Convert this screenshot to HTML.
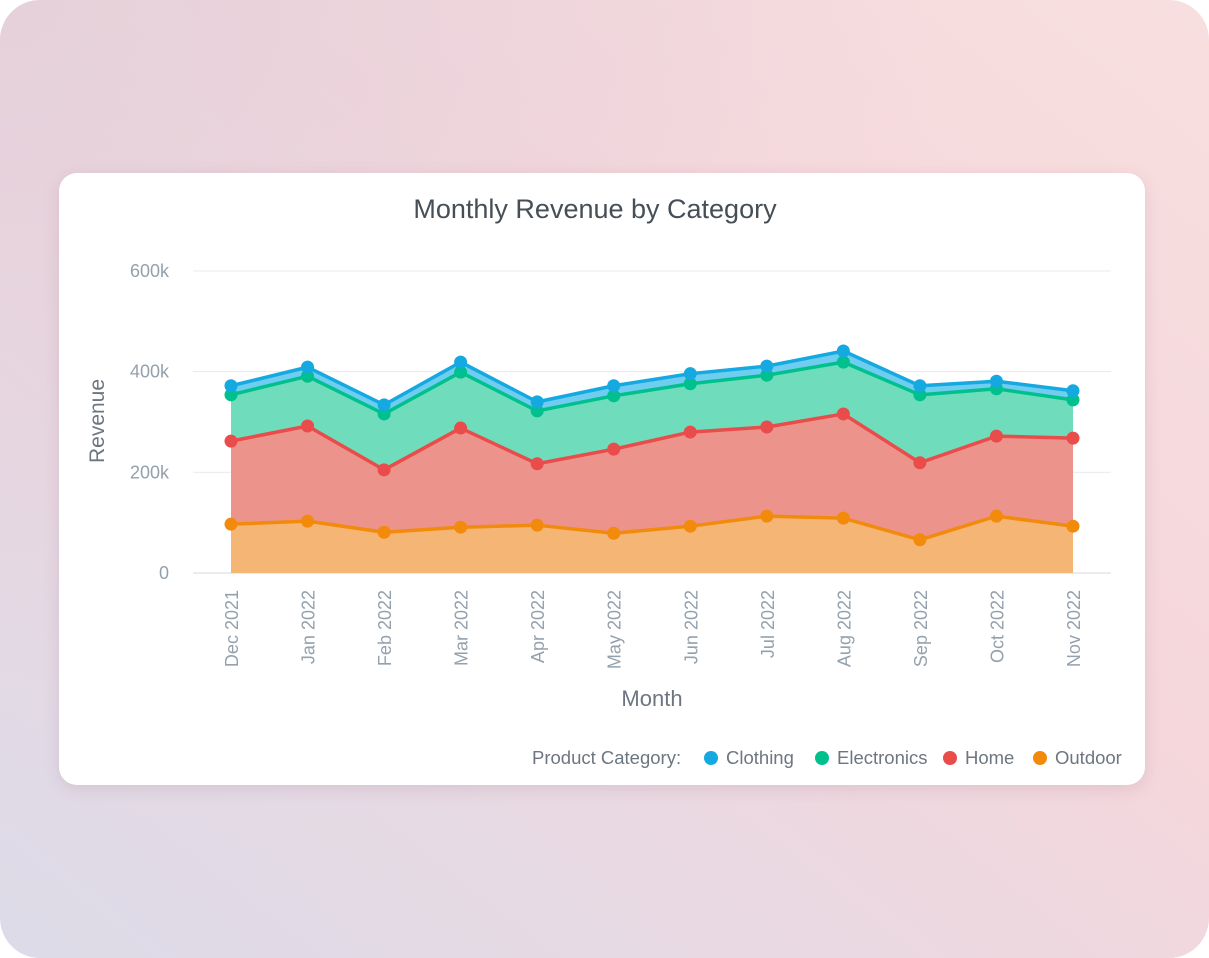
<!DOCTYPE html>
<html><head><meta charset="utf-8">
<style>
html,body{margin:0;padding:0;width:1209px;height:958px;overflow:hidden;background:#fff;font-family:"Liberation Sans",sans-serif;}
#bg{position:absolute;left:0;top:0;width:1209px;height:958px;border-radius:40px;background:linear-gradient(to top right,#dcdbe8 0%,#ead9e2 35%,#f5d7dc 60%,#f8dfdf 100%);}
#bg2{position:absolute;left:0;top:0;width:1209px;height:958px;border-radius:40px;background:radial-gradient(ellipse at 0% 0%,rgba(228,208,218,0.9) 0%,rgba(228,208,218,0) 55%);}
#card{position:absolute;left:59px;top:173px;width:1086px;height:612px;background:#fff;border-radius:18px;box-shadow:0 4px 16px rgba(150,100,120,0.18);}
svg{position:absolute;left:0;top:0;}
</style></head><body>
<div id="bg"></div>
<div id="bg2"></div>
<div id="card"></div>
<svg id="chart" width="1209" height="958"></svg>
<script>
const months=["Dec 2021","Jan 2022","Feb 2022","Mar 2022","Apr 2022","May 2022","Jun 2022","Jul 2022","Aug 2022","Sep 2022","Oct 2022","Nov 2022"];
const outdoor=[97,103,81,91,95,79,93,113,109,66,113,93];
const home=[165,189,124,197,122,167,187,177,207,153,159,175];
const electronics=[92,99,111,111,105,106,96,103,103,135,94,76];
const clothing=[18,18,18,20,18,20,20,18,22,18,15,18];
const yTicks=[0,200,400,600];
const yTickLabels=["0","200k","400k","600k"];
const svg=document.getElementById('chart');
const NS="http://www.w3.org/2000/svg";
function x(i){return 231+i*(1073-231)/(months.length-1);}
function y(v){return 573-v*(573-271)/600;}
function mk(t,a,p){const e=document.createElementNS(NS,t);for(const k in a)e.setAttribute(k,a[k]);(p||svg).appendChild(e);return e;}
let t=mk('text',{x:595,y:218,'text-anchor':'middle','font-size':27,fill:'#464e56'});t.textContent="Monthly Revenue by Category";


yTicks.forEach((v,i)=>{
  const g=mk('line',{x1:193,x2:1111,y1:y(v),y2:y(v),stroke:i==0?'#d5dae0':'#e8ebee','stroke-width':1});
  
  
  const l=mk('text',{x:169,y:y(v)+6,'text-anchor':'end','font-size':18,fill:'#94a1ad'});l.textContent=yTickLabels[i];
  
  
});
let yt=mk('text',{x:0,y:0,transform:'translate(104,421) rotate(-90)','text-anchor':'middle','font-size':21,fill:'#6d7680'});yt.textContent="Revenue";


months.forEach((m,i)=>{
  const l=mk('text',{x:0,y:0,transform:`translate(${x(i)+7},590) rotate(-90)`,'text-anchor':'end','font-size':18,fill:'#94a1ad'});l.textContent=m;
  
  
});
let xt=mk('text',{x:652,y:706,'text-anchor':'middle','font-size':22,fill:'#6d7680'});xt.textContent="Month";


const series=[["outdoor",outdoor,"#f28a0c","#f5b574"],["home",home,"#e94c4a","#ec948b"],["electronics",electronics,"#00c08e","#6fdcbb"],["clothing",clothing,"#14a9e0","#6fcdf0"]];
let base=months.map(()=>0);
const tops=[];
series.forEach(s=>{
  const top=base.map((b,i)=>b+s[1][i]);
  let d="M"+months.map((_,i)=>x(i)+","+y(top[i])).join("L");
  for(let i=months.length-1;i>=0;i--)d+="L"+x(i)+","+y(base[i]);
  const a=mk('path',{d:d+"Z",fill:s[3]});
  
  
  tops.push(top);base=top;
});
series.forEach((s,k)=>{
  const top=tops[k];
  const ln=mk('polyline',{points:months.map((_,i)=>x(i)+","+y(top[i])).join(" "),fill:'none',stroke:s[2],'stroke-width':3.5,'stroke-linejoin':'round'});
  
  
  months.forEach((_,i)=>{
    const c=mk('circle',{cx:x(i),cy:y(top[i]),r:6.5,fill:s[2]});
    
    
  });
});
let lg=mk('text',{x:532,y:764,'font-size':18.5,fill:'#6d7680'});lg.textContent="Product Category:";


const leg=[["Clothing","#14a9e0",711],["Electronics","#00c08e",822],["Home","#e94c4a",950],["Outdoor","#f28a0c",1040]];
leg.forEach(e=>{
  const c=mk('circle',{cx:e[2],cy:758,r:7,fill:e[1]});
  
  
  const l=mk('text',{x:e[2]+15,y:764,'font-size':18.5,fill:'#6d7680'});l.textContent=e[0];
  
  
});
</script>
</body></html>
